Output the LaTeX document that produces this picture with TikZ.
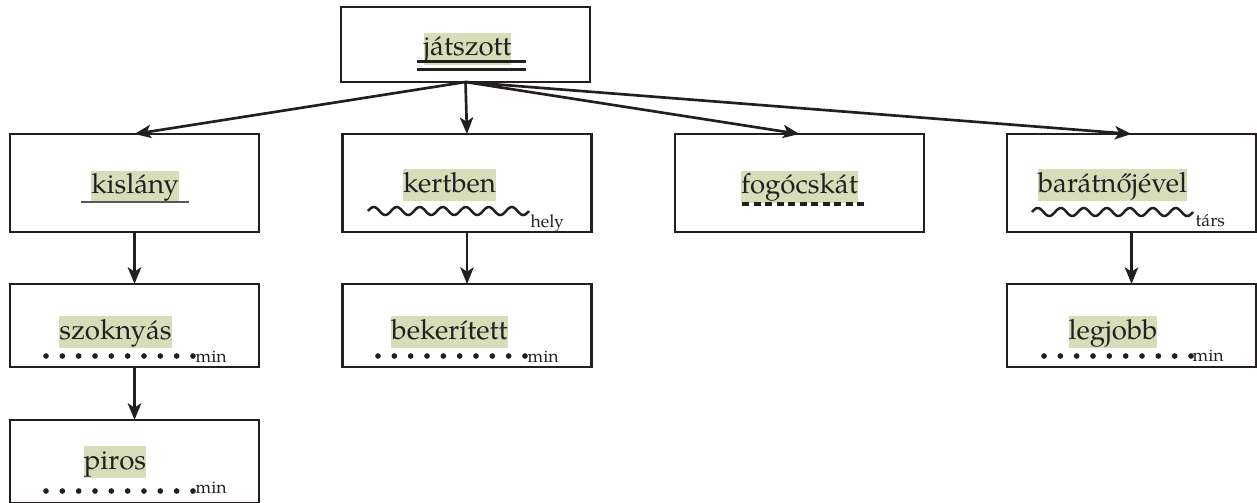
\documentclass[tikz,border=0pt]{standalone}
\usepackage{fontspec}
\setmainfont{TeX Gyre Pagella}
\usepackage{tikz}
\usetikzlibrary{arrows.meta}
\definecolor{hlgreen}{RGB}{215,220,185}
\definecolor{ink}{RGB}{35,31,32}
\newcommand*\boxwd {74.7pt}
\newcommand*\dotgap{16.33}
\tikzset{
    box/.style    = {draw=ink, line width=0.75pt, minimum width=\boxwd,
                    inner sep=0pt, outer sep=0pt},
    topbox/.style = {box, minimum height=22.5pt},
    midbox/.style = {box, minimum height=29.4pt},
    lowbox/.style = {box, minimum height=24.9pt},
    word/.style   = {fill=hlgreen, text=ink, inner sep=0pt,
                    text height=6.9pt, text depth=2.7pt,
                    font=\fontsize{8.3}{10}\selectfont},
    tag/.style    = {text=ink, inner sep=0pt, anchor=base west,
                    font=\fontsize{5.3}{6}\selectfont},
    arr/.style    = {draw=ink, line width=0.8pt,
                    -{Stealth[length=5pt,width=4pt,inset=1.3pt]}},
    wave/.style   = {draw=ink, line width=0.75pt},
  }

\begin{document}
\begin{tikzpicture}[x=0.3pt, y=-0.3pt]
    \useasboundingbox (0,0) rectangle (1257,502);

    % boxes, one per word
    \node (jatszott)     [topbox] at (465.5,44.5) {};
    \node (kislany)      [midbox] at (134.5,183) {};
    \node (kertben)      [midbox] at (467,183) {};
    \node (fogocskat)    [midbox] at (799.5,183) {};
    \node (baratnojevel) [midbox] at (1131.5,183) {};
    \node (szoknyas)     [lowbox] at (134.5,325.5) {};
    \node (bekeritett)   [lowbox] at (467,325.5) {};
    \node (legjobb)      [lowbox] at (1131.5,325.5) {};
    \node (piros)        [lowbox] at (134.5,461.5) {};

    % highlighted words
    \node (w-jatszott)     [word] at (467.5,48.5) {játszott};
    \node (w-kislany)      [word] at (135,186.5)  {kislány};
    \node (w-kertben)      [word] at (449.5,185)  {kertben};
    \node (w-fogocskat)    [word] at (799.5,186.5) {fogócskát};
    \node (w-baratnojevel) [word] at (1112.5,185) {barátnőjével};
    \node (w-szoknyas)     [word] at (115.5,332)  {szoknyás};
    \node (w-bekeritett)   [word] at (449.5,332)  {bekerített};
    \node (w-legjobb)      [word] at (1113,332)   {legjobb};
    \node (w-piros)        [word] at (115,462)    {piros};

    % double underline: predicate
    \draw[ink, line width=0.9pt] (417,61) -- (526,61);
    \draw[ink, line width=0.9pt] (417,69) -- (526,69);
    % plain underline: subject
    \draw[ink!75, line width=0.5pt] (81,202) -- (189,202);
    % dashed underline: object
    \draw[ink, line width=1pt, dash pattern=on 2.1pt off 1.35pt] (742,204) -- (868,204);

    % wavy underlines: adverbials
    \foreach \sx/\ex/\sy in {368/529/211, 1032/1193/212} {
        \draw[wave] plot[variable=\t, domain=\sx:\ex, samples=140, smooth]
            (\t, {\sy-4*sin((\t-\sx)/23*360)});
    }
    \node (t-hely) [tag] at (530,227) {hely};
    \node (t-tars) [tag] at (1195,226) {társ};

    % dotted underlines: attributes
    \foreach \x/\y in {46/356, 378/356, 1044/356, 46/491} {
        \foreach \k in {0,...,9} {
            \fill[ink] (\x+\k*\dotgap,\y) circle (0.85pt);
        }
    }
    \foreach \x/\y [count=\i from 1] in {195/362, 527/362.5, 1192/361.7, 195/493} {
        \node (t-min\i) [tag] at (\x,\y) {min};
    }

    % arrows
    \foreach \b in {kislany,kertben,fogocskat,baratnojevel} {
        \draw[arr] (jatszott.south) -- (\b.north);
    }
    \draw[arr] (kislany.south) -- (szoknyas.north);
    \draw[arr] (szoknyas.south) -- (piros.north);
    \draw[arr] (kertben.south) -- (bekeritett.north);
    \draw[arr] (baratnojevel.south) -- (legjobb.north);
\end{tikzpicture}
\end{document}
